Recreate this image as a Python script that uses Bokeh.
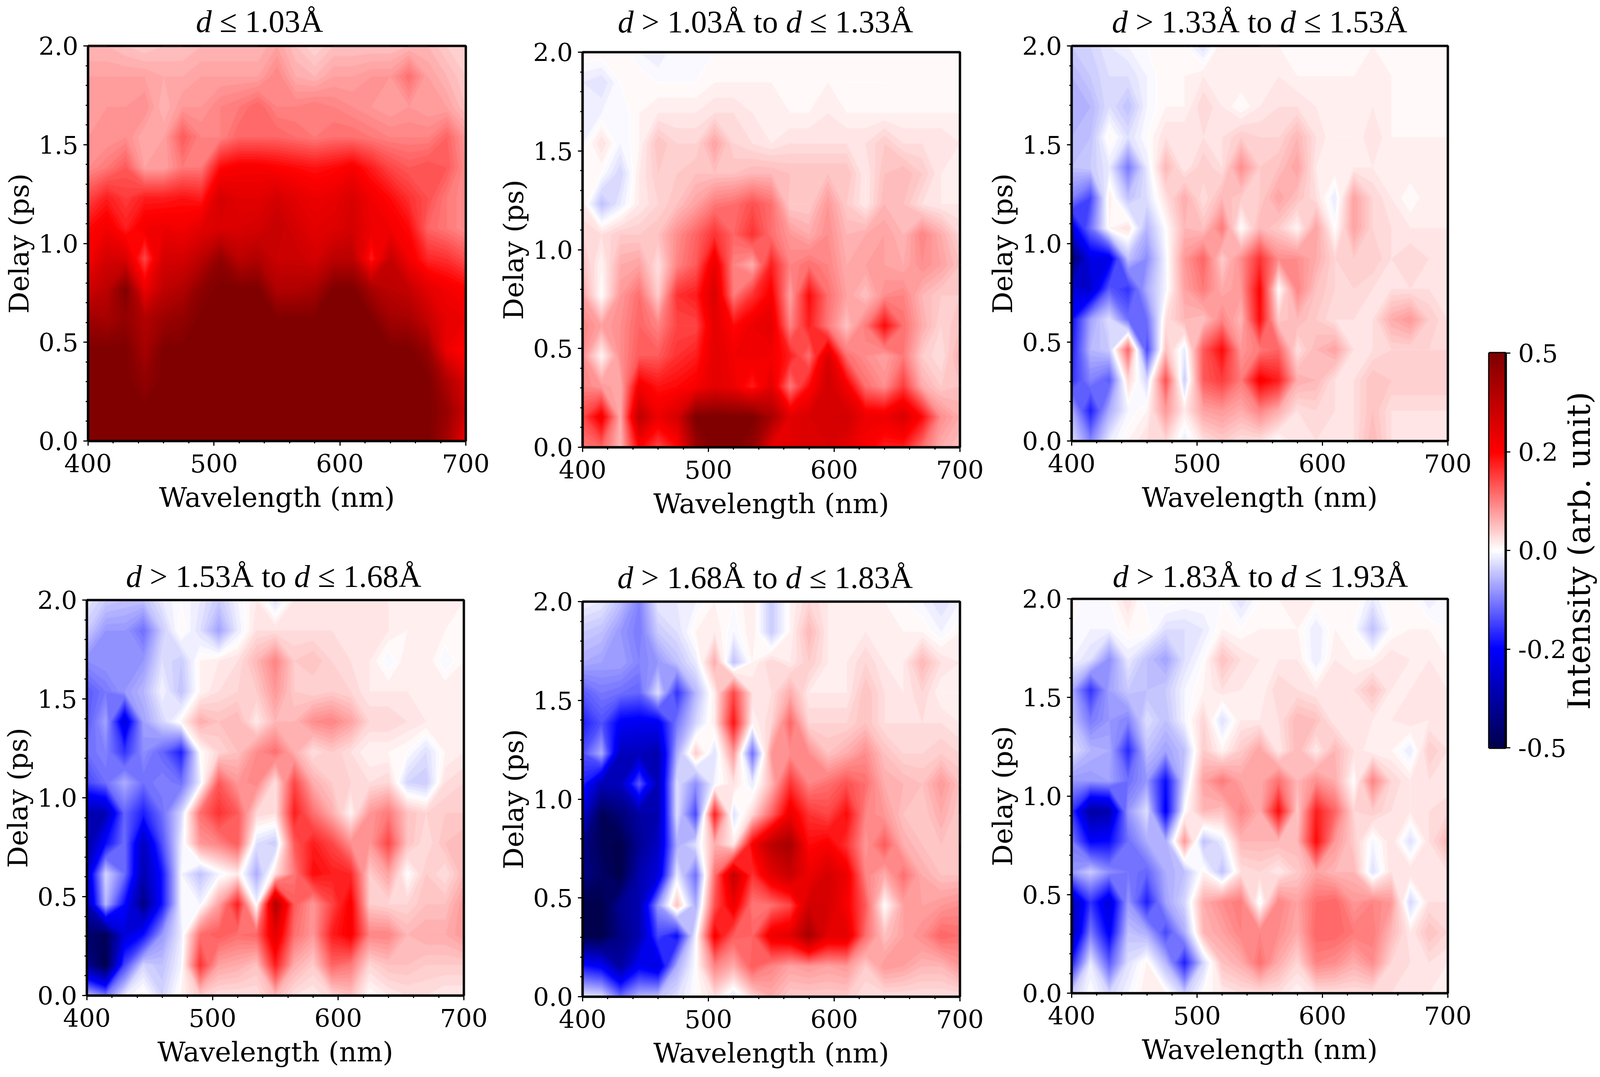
import numpy as np
from bokeh.core.properties import value
from bokeh.embed import file_html
from bokeh.layouts import column, row
from bokeh.models import FixedTicker, LinearColorMapper, Range1d, Span
from bokeh.plotting import figure
from bokeh.resources import INLINE

# grid the maps are read on: 15 nm columns, 14 delay rows, top row is 2.0 ps
wavelengths = list(range(400, 701, 15))
delays = [round(2 * k / 13, 3) for k in range(14)]

# intensities in hundredths of an arb. unit, one list per delay, top row first
map_1 = [
    [7, 7, 6, 5, 6, 6, 7, 7, 7, 7, 9, 6, 4, 6, 6, 6, 6, 7, 7, 5, 4],
    [9, 9, 9, 9, 8, 8, 9, 9, 9, 9, 12, 8, 7, 9, 9, 10, 10, 14, 9, 7, 5],
    [9, 10, 10, 11, 7, 10, 10, 12, 13, 15, 12, 12, 13, 12, 11, 10, 9, 10, 9, 9, 6],
    [10, 10, 11, 8, 9, 16, 12, 12, 15, 15, 15, 14, 13, 14, 14, 13, 12, 12, 12, 15, 10],
    [11, 13, 16, 9, 9, 13, 13, 24, 26, 26, 25, 24, 23, 24, 26, 22, 18, 16, 17, 16, 11],
    [18, 22, 19, 22, 22, 23, 22, 33, 30, 30, 33, 30, 28, 29, 32, 27, 24, 20, 17, 13, 11],
    [24, 27, 22, 27, 28, 27, 30, 32, 32, 33, 36, 33, 30, 31, 33, 28, 27, 24, 15, 13, 11],
    [27, 33, 32, 18, 33, 33, 38, 46, 38, 40, 35, 35, 33, 38, 38, 22, 36, 27, 21, 20, 17],
    [34, 38, 50, 28, 37, 40, 47, 50, 50, 50, 40, 40, 42, 50, 50, 42, 38, 36, 30, 27, 25],
    [44, 42, 46, 40, 44, 46, 50, 50, 50, 50, 50, 50, 50, 50, 50, 50, 43, 42, 36, 29, 28],
    [50, 50, 50, 42, 50, 50, 50, 50, 50, 50, 50, 50, 50, 50, 50, 50, 50, 50, 45, 28, 24],
    [50, 50, 50, 46, 50, 50, 50, 50, 50, 50, 50, 50, 50, 50, 50, 50, 50, 50, 50, 40, 32],
    [50, 50, 50, 50, 50, 50, 50, 50, 50, 50, 50, 50, 50, 50, 50, 50, 50, 50, 50, 45, 35],
    [50, 50, 50, 50, 50, 50, 50, 50, 50, 50, 50, 50, 50, 50, 50, 50, 50, 50, 50, 42, 28],
]
map_2 = [
    [1, 1, 1, -1, -2, 0, 0, 0, 1, 1, 1, 1, 1, 1, 1, 1, 1, 1, 1, 1, 1],
    [-2, -3, 0, 1, 0, 0, 0, 1, 1, 1, 1, 1, 1, 1, 0, 0, 0, 1, 1, 1, 1],
    [-2, -1, -1, 1, 2, 2, 2, 3, 3, 2, 2, 1, 1, 2, 1, 1, 1, 1, 1, 1, 1],
    [-1, 3, -1, 1, 6, 4, 4, 9, 4, 3, 2, 3, 3, 3, 3, 3, 5, 3, 3, 3, 2],
    [1, 0, -4, 2, 5, 5, 6, 6, 6, 7, 7, 6, 6, 6, 6, 2, 6, 7, 5, 2, 2],
    [2, -6, -2, 2, 4, 6, 9, 13, 14, 17, 14, 5, 5, 10, 5, 2, 7, 6, 3, 2, 2],
    [4, 3, 5, 5, 6, 11, 15, 20, 15, 20, 14, 10, 8, 11, 7, 8, 9, 7, 12, 8, 4],
    [6, 1, 8, 9, 3, 12, 16, 29, 12, 8, 22, 12, 14, 12, 8, 9, 9, 8, 11, 9, 6],
    [9, 0, 10, 14, 5, 20, 22, 32, 13, 20, 26, 9, 24, 14, 9, 6, 11, 12, 7, 5, 5],
    [12, 9, 11, 15, 12, 18, 18, 30, 24, 28, 30, 12, 22, 13, 6, 13, 24, 14, 8, 4, 6],
    [11, 1, 11, 16, 16, 20, 22, 30, 27, 28, 27, 22, 14, 32, 14, 11, 9, 13, 5, 3, 8],
    [12, 10, 8, 27, 23, 24, 26, 30, 28, 22, 30, 13, 24, 34, 27, 14, 11, 19, 8, 5, 6],
    [18, 27, 8, 38, 28, 33, 50, 50, 50, 50, 42, 30, 32, 33, 34, 28, 28, 32, 24, 11, 8],
    [13, 15, 7, 25, 18, 24, 44, 50, 50, 46, 30, 30, 32, 32, 30, 26, 22, 22, 14, 8, 6],
]
map_3 = [
    [-5, -4, -2, -1, 0, 1, 0, -3, 2, 2, 1, 1, 1, 1, 1, 1, 1, 1, 1, 1, 1],
    [-7, -5, -3, -3, -1, 1, 1, 2, 2, 2, 2, 2, 1, 1, 1, 1, 2, 1, 1, 1, 1],
    [-8, -7, -3, -6, -1, 1, 1, 4, 2, 0, 2, 3, 3, 2, 2, 2, 2, 1, 1, 1, 1],
    [-7, -6, 1, -3, 0, 3, 3, 3, 3, 5, 4, 4, 7, 3, 1, 1, 3, 1, 1, 1, 1],
    [-6, -5, -2, -13, -2, 7, 2, 5, 3, 11, 5, 6, 9, 2, 2, 2, 2, 2, 2, 2, 2],
    [-12, -18, 2, -6, -3, 3, 8, 3, 7, 5, 5, 9, 6, 3, -2, 9, 4, 2, 0, 2, 1],
    [-28, -14, 1, 3, -7, 0, 7, 6, 13, 0, 7, 5, 1, 9, 0, 9, 4, 3, 2, 2, 2],
    [-45, -28, -28, -6, -11, -1, 10, 15, 5, 11, 20, 11, 11, 8, 4, 5, 5, 3, 4, 3, 3],
    [-30, -32, -16, -20, -8, -1, 9, 13, 8, 10, 25, 0, 12, 6, 4, 4, 3, 3, 3, 3, 3],
    [-24, -9, -3, -14, -14, 3, 7, 6, 12, 7, 24, 5, 7, 5, 3, 3, 3, 8, 10, 5, 3],
    [-22, -7, -5, 15, -18, 6, -2, 16, 24, 10, 13, 15, 3, 7, 9, 3, 3, 4, 4, 4, 4],
    [-20, -12, -16, 4, -4, 17, -5, 16, 19, 13, 26, 22, 8, 7, 3, 3, 6, 5, 5, 5, 5],
    [-8, -22, -8, -1, 1, 10, 2, 9, 10, 8, 12, 8, 3, 4, 3, 3, 6, 3, 3, 3, 3],
    [-3, -12, -2, 1, 3, 4, -2, 3, 5, 3, 3, 0, 3, 3, 3, 3, 7, 3, 3, 3, 3],
]
map_4 = [
    [-2, -5, -6, -6, -2, 0, -2, -5, -1, 2, -3, 2, 3, 2, 3, 3, 2, 2, 2, 2, 1],
    [-5, -10, -10, -14, -5, 1, -3, -9, -2, 3, 3, 3, 3, 3, 3, 3, 2, 1, 2, 1, 1],
    [-11, -10, -10, -10, -3, -5, 1, 2, 3, 7, 12, 5, 6, 4, 3, 2, -1, 2, 2, -1, 1],
    [-16, -13, -10, -7, -1, -6, 1, 3, 4, 5, 10, 5, 4, 5, 4, 2, 2, 2, 2, 2, 2],
    [-16, -9, -30, -9, -4, 1, 8, 6, 7, 2, 7, 7, 11, 12, 9, 4, 4, 3, 2, 2, 1],
    [-14, -12, -20, -11, -15, -22, 0, 4, 6, 11, 14, 8, 3, 5, 3, 1, 1, 0, -3, 1, 2],
    [-18, -14, -8, -14, -12, -14, -2, 16, 10, 12, 3, 18, 8, 5, 4, 3, 4, -4, -5, 3, 4],
    [-36, -35, -15, -22, -14, -4, 14, 20, 16, 4, 3, 22, 14, 8, 1, 10, 13, 6, 4, 5, 5],
    [-38, -24, -14, -34, -17, -2, 10, 12, 16, -3, -5, 16, 22, 18, 11, 10, 18, 6, 3, 6, 7],
    [-32, -4, -14, -36, -23, -1, -6, -1, 2, -8, 3, 13, 24, 22, 21, 5, 9, 0, 5, 3, 7],
    [-36, -7, -24, -42, -23, -1, -1, 9, 22, -1, 40, 16, 10, 18, 26, 5, 4, 4, 6, 6, 10],
    [-45, -48, -30, -24, -10, -2, 14, 16, 14, 15, 30, 14, 10, 22, 26, 12, 12, 7, 8, 8, 10],
    [-40, -50, -18, -4, -6, -1, 20, 9, 8, 6, 22, 8, 5, 15, 13, 4, 6, 6, 5, 5, 5],
    [-6, -13, -2, 1, -4, 1, 5, 3, 3, 3, 7, 3, 2, 4, 6, 0, 2, 3, 3, 2, 2],
]
map_5 = [
    [-1, -2, -6, -12, -2, -2, -1, 1, 0, 2, -5, 1, 4, 2, 2, 1, 1, 0, -1, -3, -1],
    [-5, -6, -10, -13, -5, -3, 1, 2, -1, 2, -5, 1, 7, 2, 1, 2, 2, 1, 1, -1, 1],
    [-8, -9, -9, -12, -10, -6, -2, 8, -6, 1, 4, 2, 5, 2, 2, 4, 2, 2, 7, 3, 2],
    [-16, -13, -14, -15, -3, -20, -7, 2, 18, 3, 3, 8, 2, 2, 2, 6, 3, 2, 4, 1, 1],
    [-22, -17, -26, -27, -27, -13, -4, 2, 23, 1, 4, 15, 4, 4, 4, 6, 3, 3, 3, 3, 2],
    [-17, -8, -34, -34, -36, -8, 5, -3, 10, -14, 10, 11, 11, 6, 8, 11, 6, 4, 4, 5, 4],
    [-22, -35, -34, -16, -35, -3, -11, -1, 3, -2, 7, 20, 12, 14, 17, 14, 8, 7, 6, 10, 6],
    [-32, -48, -44, -38, -36, -3, -18, 22, -3, 4, 15, 28, 20, 18, 24, 12, 10, 6, 5, 8, 5],
    [-42, -48, -50, -40, -33, -8, -3, 8, 2, 26, 38, 42, 24, 26, 20, 10, 16, 8, 6, 6, 5],
    [-42, -46, -50, -36, -30, -2, -14, 14, 36, 20, 30, 35, 28, 33, 28, 12, 8, 14, 8, 6, 6],
    [-50, -50, -40, -36, -10, 6, -8, 17, 28, 13, 14, 18, 34, 33, 26, 16, 0, 9, 9, 10, 11],
    [-50, -50, -42, -36, -18, -24, -1, 26, 16, 15, 28, 30, 42, 30, 30, 14, 6, 9, 11, 15, 14],
    [-23, -26, -38, -26, -30, -8, 0, 12, 8, 16, 12, 9, 10, 9, 10, 5, 10, 9, 7, 7, 10],
    [-2, -3, -14, -7, -6, -3, 0, 3, -3, 4, 8, 5, 5, 5, 5, 3, 3, 3, 3, 3, 3],
]
map_6 = [
    [1, -1, 0, 3, -1, 1, 0, 0, 0, -3, 0, 1, 2, 1, 1, 1, -2, 1, 1, -2, 0],
    [0, -1, -1, 1, 1, -3, -3, -2, 1, 0, 1, 1, 1, -2, 1, 0, -6, 0, 1, 1, 0],
    [-1, -3, -11, -2, -6, -9, -3, 0, 6, 3, 2, 2, 2, -2, 2, 1, 1, 3, 2, 2, 1],
    [-8, -20, -9, -5, -6, -5, -1, 1, 3, 2, 1, 4, 3, 2, 3, 3, 6, 2, 2, 3, 2],
    [-6, -13, -10, -12, -3, -6, -1, 4, -3, 2, 2, 3, 7, 6, 2, 3, 2, 2, 3, 2, 3],
    [-3, -7, -8, -21, -6, -9, -6, 5, 1, 5, 9, 2, 7, 2, 7, 3, 1, 1, -2, 5, 3],
    [-10, -10, -9, -14, -10, -24, -4, 9, 13, 9, 8, 14, 7, 11, 8, 0, 12, 4, 2, 3, 2],
    [-20, -38, -36, -10, -3, -26, 0, 7, 6, 12, 8, 24, 5, 22, 15, 4, 5, 3, 2, 3, 4],
    [-13, -25, -24, -14, -8, -8, 10, -6, -2, 7, 7, 7, 7, 24, 10, 5, -1, 3, -3, 3, 7],
    [-10, -5, -11, -13, -15, -8, -6, 1, -6, 3, 4, 2, 5, 9, 7, 7, -3, 3, 3, 3, 3],
    [-35, -20, -30, -10, -22, -9, -4, 8, 11, 13, -1, 12, 9, 14, 15, 10, 12, 10, -4, 3, 3],
    [-36, -13, -26, -6, -8, -18, -8, 7, 9, 12, 12, 11, 8, 15, 15, 13, 13, 7, 2, 6, 4],
    [-22, -2, -16, -3, 1, -7, -22, -4, 6, 8, 14, 8, 4, 12, 11, 8, 11, 4, 3, 3, 2],
    [-5, 0, -4, -1, 2, 1, -5, 0, 2, 3, 3, 3, 1, 3, 3, 3, 3, 3, 3, 2, 2],
]

# bin edges of each panel, None = no lower edge
bins = [(None, "1.03"), ("1.03", "1.33"), ("1.33", "1.53"),
        ("1.53", "1.68"), ("1.68", "1.83"), ("1.83", "1.93")]

x_ticks = [400, 500, 600, 700]
y_ticks = [0.0, 0.5, 1.0, 1.5, 2.0]
cbar_ticks = [-0.5, -0.25, 0.0, 0.25, 0.5]
cbar_labels = ["-0.5", "-0.2", "0.0", "0.2", "0.5"]


def seismic(n):
    # matplotlib's seismic
    anchors = [(0, 0, 77), (0, 0, 255), (255, 255, 255), (255, 0, 0), (128, 0, 0)]
    stops = [0, 0.25, 0.5, 0.75, 1]
    t = np.linspace(0, 1, n)
    rgb = [np.interp(t, stops, [a[i] for a in anchors]) for i in range(3)]
    return ["#%02x%02x%02x" % (int(r), int(g), int(b)) for r, g, b in zip(*rgb)]


mapper = LinearColorMapper(palette=seismic(256), low=-0.5, high=0.5)
levels = np.linspace(-0.5, 0.5, 101)
levels[0], levels[-1] = -0.51, 0.51  # keep values at the ends inside the bands
band_colors = seismic(100)
line_colors = seismic(101)

# the photographed page stops near 4096 px wide, so x positions are the
# reference's times 0.844 to keep the colour bar in the picture
frames = [(225, 117, 1192, 1128), (1491, 133, 2457, 1144), (2741, 117, 3706, 1128),
          (222, 1535, 1187, 2547), (1491, 1539, 2457, 2550), (2741, 1532, 3706, 2541)]
cells = [(0, 0, 1266, 1400), (1266, 0, 2522, 1400), (2522, 0, 3774, 1400),
         (0, 1400, 1266, 2750), (1266, 1400, 2522, 2750), (2522, 1400, 3774, 2750)]
title_pos = [(501, 85), (1581, 86), (2846, 86), (322, 1505), (1580, 1508), (2848, 1505)]

TITLE_SIZE = 81
BASE_SHIFT = 0.375  # the svg text sits this many em below the asked baseline
OVERLAP = 34  # the panel canvas reaches this far up over its title strip
em = {"d": .5, " ": .25, "≤": .549, ">": .564, ".": .25, "Å": .722, "t": .278, "o": .5}


def advance(s):
    return sum(em.get(c, .5) for c in s) * TITLE_SIZE


def title_strip(lo, hi, left, base, frame, cell):
    # the title runs, upright and italic, in a strip above the panel
    bottom = frame[1] - 6
    s = figure(width=cell[2] - cell[0], height=bottom - cell[1], min_border=0, frame_align=False,
               x_range=Range1d(cell[0], cell[2]), y_range=Range1d(bottom, cell[1]),
               x_axis_location=None, y_axis_location=None,
               output_backend="svg", toolbar_location=None, tools="")
    s.grid.visible = False
    s.outline_line_color = None
    parts = []
    if lo:
        parts += [("d", "italic"), (" > " + lo + "Å to ", "normal")]
    parts += [("d", "italic"), (" ≤ " + hi + "Å", "normal")]
    x = left
    for txt, style in parts:
        pad = len(txt) - len(txt.lstrip())
        s.text(x=[x + advance(txt[:pad])], y=[base - BASE_SHIFT * TITLE_SIZE], text=[txt.strip()],
               text_font=value("Liberation Serif"), text_font_style=style,
               text_font_size="%dpx" % TITLE_SIZE, text_color="black", text_baseline="alphabetic")
        x += advance(txt)
    return s


def style_axis(ax):
    ax.major_label_text_font = "DejaVu Serif"
    ax.major_label_text_font_size = "64px"
    ax.major_label_text_color = "black"
    ax.axis_label_text_font = "DejaVu Serif"
    ax.axis_label_text_font_style = "normal"
    ax.axis_label_text_font_size = "70px"
    ax.axis_label_text_color = "black"
    ax.major_tick_in = 0
    ax.major_tick_out = 12
    ax.minor_tick_in = 0
    ax.minor_tick_out = 6
    ax.major_tick_line_width = 3
    ax.minor_tick_line_width = 3
    ax.major_tick_line_color = "black"
    ax.minor_tick_line_color = "black"
    ax.axis_line_width = 6
    ax.axis_line_color = "black"


def make_panel(values, lo, hi, frame, cell, tpos):
    top = frame[1] - 6
    p = figure(width=cell[2] - cell[0], height=cell[3] - top + OVERLAP, frame_align=False,
               margin=(-OVERLAP, 0, 0, 0), border_fill_color=None,
               min_border_left=frame[0] - cell[0], min_border_right=cell[2] - frame[2],
               min_border_top=6 + OVERLAP, min_border_bottom=cell[3] - frame[3],
               x_range=Range1d(400, 700), y_range=Range1d(0, 2),
               output_backend="svg", toolbar_location=None, tools="")
    grid = np.array(values, dtype=float)[::-1] / 100
    p.contour(wavelengths, delays, grid, levels=levels, fill_color=band_colors,
              line_color=line_colors, line_width=2)
    p.grid.visible = False
    p.outline_line_color = "black"
    p.outline_line_width = 6
    p.xaxis.ticker = FixedTicker(ticks=x_ticks, minor_ticks=list(range(400, 701, 20)))
    p.yaxis.ticker = FixedTicker(ticks=y_ticks, minor_ticks=[i / 10 for i in range(21)])
    p.yaxis.major_label_overrides = {t: "%.1f" % t for t in y_ticks}
    p.xaxis.axis_label = "Wavelength (nm)"
    p.yaxis.axis_label = "Delay (ps)"
    style_axis(p.xaxis[0])
    style_axis(p.yaxis[0])
    p.xaxis.major_label_standoff = 21
    p.xaxis.axis_label_standoff = 20
    p.yaxis.major_label_standoff = 13
    p.yaxis.axis_label_standoff = 6
    # top and right spines over the bands
    p.add_layout(Span(location=2, dimension="width", line_color="black", line_width=6))
    p.add_layout(Span(location=700, dimension="height", line_color="black", line_width=6))
    return column(title_strip(lo, hi, tpos[0], tpos[1], frame, cell), p, spacing=0)


maps = [map_1, map_2, map_3, map_4, map_5, map_6]
panels = [make_panel(m, b[0], b[1], f, c, t) for m, b, f, c, t in zip(maps, bins, frames, cells, title_pos)]

# colour bar as its own little figure, its label in a strip beside it
cb = figure(width=238, height=2750, frame_align=False, min_border_left=38, min_border_right=158,
            min_border_top=903, min_border_bottom=837,
            x_range=Range1d(0, 1), y_range=Range1d(-0.5, 0.5),
            output_backend="svg", toolbar_location=None, tools="", x_axis_location=None, y_axis_location="right")
cb.image(image=[np.linspace(-0.5, 0.5, 256).reshape(-1, 1)], x=0, y=-0.5, dw=1, dh=1, color_mapper=mapper)
cb.grid.visible = False
cb.outline_line_color = "black"
cb.outline_line_width = 6
cb.yaxis.ticker = FixedTicker(ticks=cbar_ticks, minor_ticks=[])
cb.yaxis.major_label_overrides = dict(zip(cbar_ticks, cbar_labels))
style_axis(cb.yaxis[0])
cb.yaxis.major_label_standoff = 20

cb_label = figure(width=82, height=2750, min_border=0, frame_align=False,
                  x_range=Range1d(4012, 4094), y_range=Range1d(2750, 0),
                  x_axis_location=None, y_axis_location=None,
                  output_backend="svg", toolbar_location=None, tools="")
cb_label.grid.visible = False
cb_label.outline_line_color = None
cb_label.text(x=[4072 - BASE_SHIFT * 82], y=[1409], text=["Intensity (arb. unit)"], angle=np.pi / 2,
              text_font=value("DejaVu Serif"), text_font_size="82px", text_color="black",
              text_align="center", text_baseline="alphabetic")

page = row(column(panels[0], panels[3], spacing=0), column(panels[1], panels[4], spacing=0),
           column(panels[2], panels[5], spacing=0), cb, cb_label, spacing=0,
           styles={"position": "absolute", "left": "0px", "top": "0px"})
open("out.html", "w").write(file_html(page, INLINE))
